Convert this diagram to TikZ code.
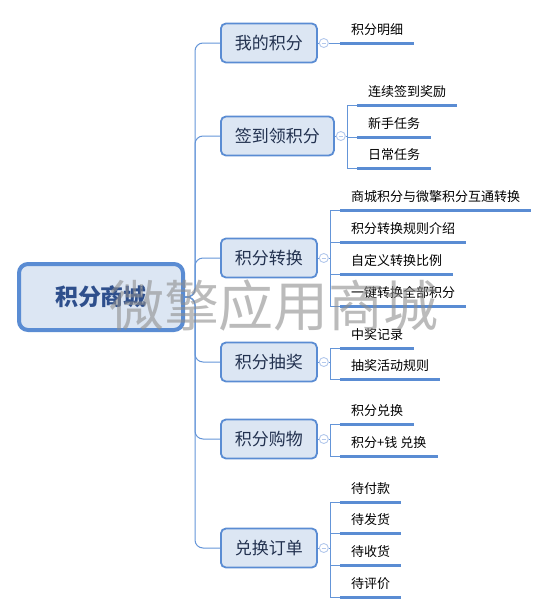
\documentclass[tikz,border=0pt]{standalone}
\usepackage{fontspec}
\setmainfont{Noto Sans CJK SC}
\usetikzlibrary{calc}
\definecolor{nodeborder}{HTML}{5A8CD3}
\definecolor{nodefill}{HTML}{DCE6F3}
\definecolor{linec}{HTML}{6495D8}
\definecolor{ulc}{HTML}{5A8CD3}
\definecolor{lvtext}{HTML}{22314F}
\definecolor{roottext}{HTML}{2E4F8C}
\definecolor{circc}{HTML}{B3C8EC}
\definecolor{wmc}{HTML}{8E8E8E}
\begin{document}
\begin{tikzpicture}[x=1pt,y=-1pt,
 rootbox/.style={draw=nodeborder, line width=4pt, fill=nodefill, rounded corners=9pt, minimum width=164pt, minimum height=66pt, inner sep=0pt, font=\fontsize{23pt}{26pt}\selectfont\bfseries, text=roottext},
 topicbox/.style={draw=nodeborder, line width=1.8pt, fill=nodefill, rounded corners=5pt, anchor=west, inner xsep=14pt, inner ysep=0pt, minimum height=39pt, font=\fontsize{17pt}{20pt}\selectfont, text=lvtext},
 leaf/.style={anchor=south west, inner xsep=11pt, inner ysep=5pt, text height=10pt, text depth=3pt, font=\fontsize{13pt}{15pt}\selectfont, text=black},
 ul/.style={draw=ulc, line width=3pt},
 conn/.style={draw=linec, line width=1pt},
 trunk/.style={draw=linec, line width=1pt, rounded corners=8pt},
 collapse/.style={circle, draw=circc, fill=white, line width=0.9pt, minimum size=9pt, inner sep=0pt,
   path picture={\draw[circc, line width=0.9pt] ($(path picture bounding box.center)+(-2.3,0)$) -- ($(path picture bounding box.center)+(2.3,0)$);}},
 watermark/.style={font=\fontsize{55pt}{60pt}\selectfont, text=wmc, text opacity=0.6}
]
\useasboundingbox (0,0) rectangle (549,614);

% root
\node[rootbox] (root) at (101,297) {积分商城};

% level-1 topics
\node[topicbox] (n1) at (220,43) {我的积分};
\node[topicbox] (n2) at (220,136) {签到领积分};
\node[topicbox] (n3) at (220,258) {积分转换};
\node[topicbox] (n4) at (220,362) {积分抽奖};
\node[topicbox] (n5) at (220,439) {积分购物};
\node[topicbox] (n6) at (220,548) {兑换订单};

% trunk and branches
\foreach \n in {n1,n2,n3,n4,n5,n6}{
  \draw[trunk] (root.east) -- ++(10,0) |- (\n.west);
}

% collapse markers
\foreach \n in {n1,n2,n3,n4,n5,n6}{
  \draw[conn] (\n.east) -- ++(6,0);
  \node[collapse] (c\n) at ($(\n.east)+(6,0)$) {};
}

% leaves
\node[leaf] (k11) at (340,43) {积分明细};

\node[leaf] (k21) at (357,105) {连续签到奖励};
\node[leaf] (k22) at (357,137) {新手任务};
\node[leaf] (k23) at (357,168) {日常任务};

\node[leaf] (k31) at (340,210) {商城积分与微擎积分互通转换};
\node[leaf] (k32) at (340,242) {积分转换规则介绍};
\node[leaf] (k33) at (340,274) {自定义转换比例};
\node[leaf] (k34) at (340,306) {一键转换全部积分};

\node[leaf] (k41) at (340,348) {中奖记录};
\node[leaf] (k42) at (340,379) {抽奖活动规则};

\node[leaf] (k51) at (340,424) {积分兑换};
\node[leaf] (k52) at (340,456) {积分+钱 兑换};

\node[leaf] (k61) at (340,502) {待付款};
\node[leaf] (k62) at (340,533) {待发货};
\node[leaf] (k63) at (340,565) {待收货};
\node[leaf] (k64) at (340,597) {待评价};

% leaf connectors
\draw[conn] (cn1.east) -- (k11.south west);
\foreach \k in {k21,k22,k23}{\draw[conn] (cn2.east) -- ++(1.5,0) |- (\k.south west);}
\foreach \k in {k31,k32,k33,k34}{\draw[conn] (cn3.east) -- ++(1.5,0) |- (\k.south west);}
\foreach \k in {k41,k42}{\draw[conn] (cn4.east) -- ++(1.5,0) |- (\k.south west);}
\foreach \k in {k51,k52}{\draw[conn] (cn5.east) -- ++(1.5,0) |- (\k.south west);}
\foreach \k in {k61,k62,k63,k64}{\draw[conn] (cn6.east) -- ++(1.5,0) |- (\k.south west);}

% underlines
\foreach \k in {k11,k21,k22,k23,k31,k32,k33,k34,k41,k42,k51,k52,k61,k62,k63,k64}{
  \draw[ul] (\k.south west) -- (\k.south east);
}

% watermark
\node[watermark] (wm) at (274,306) {微擎应用商城};
\end{tikzpicture}
\end{document}
